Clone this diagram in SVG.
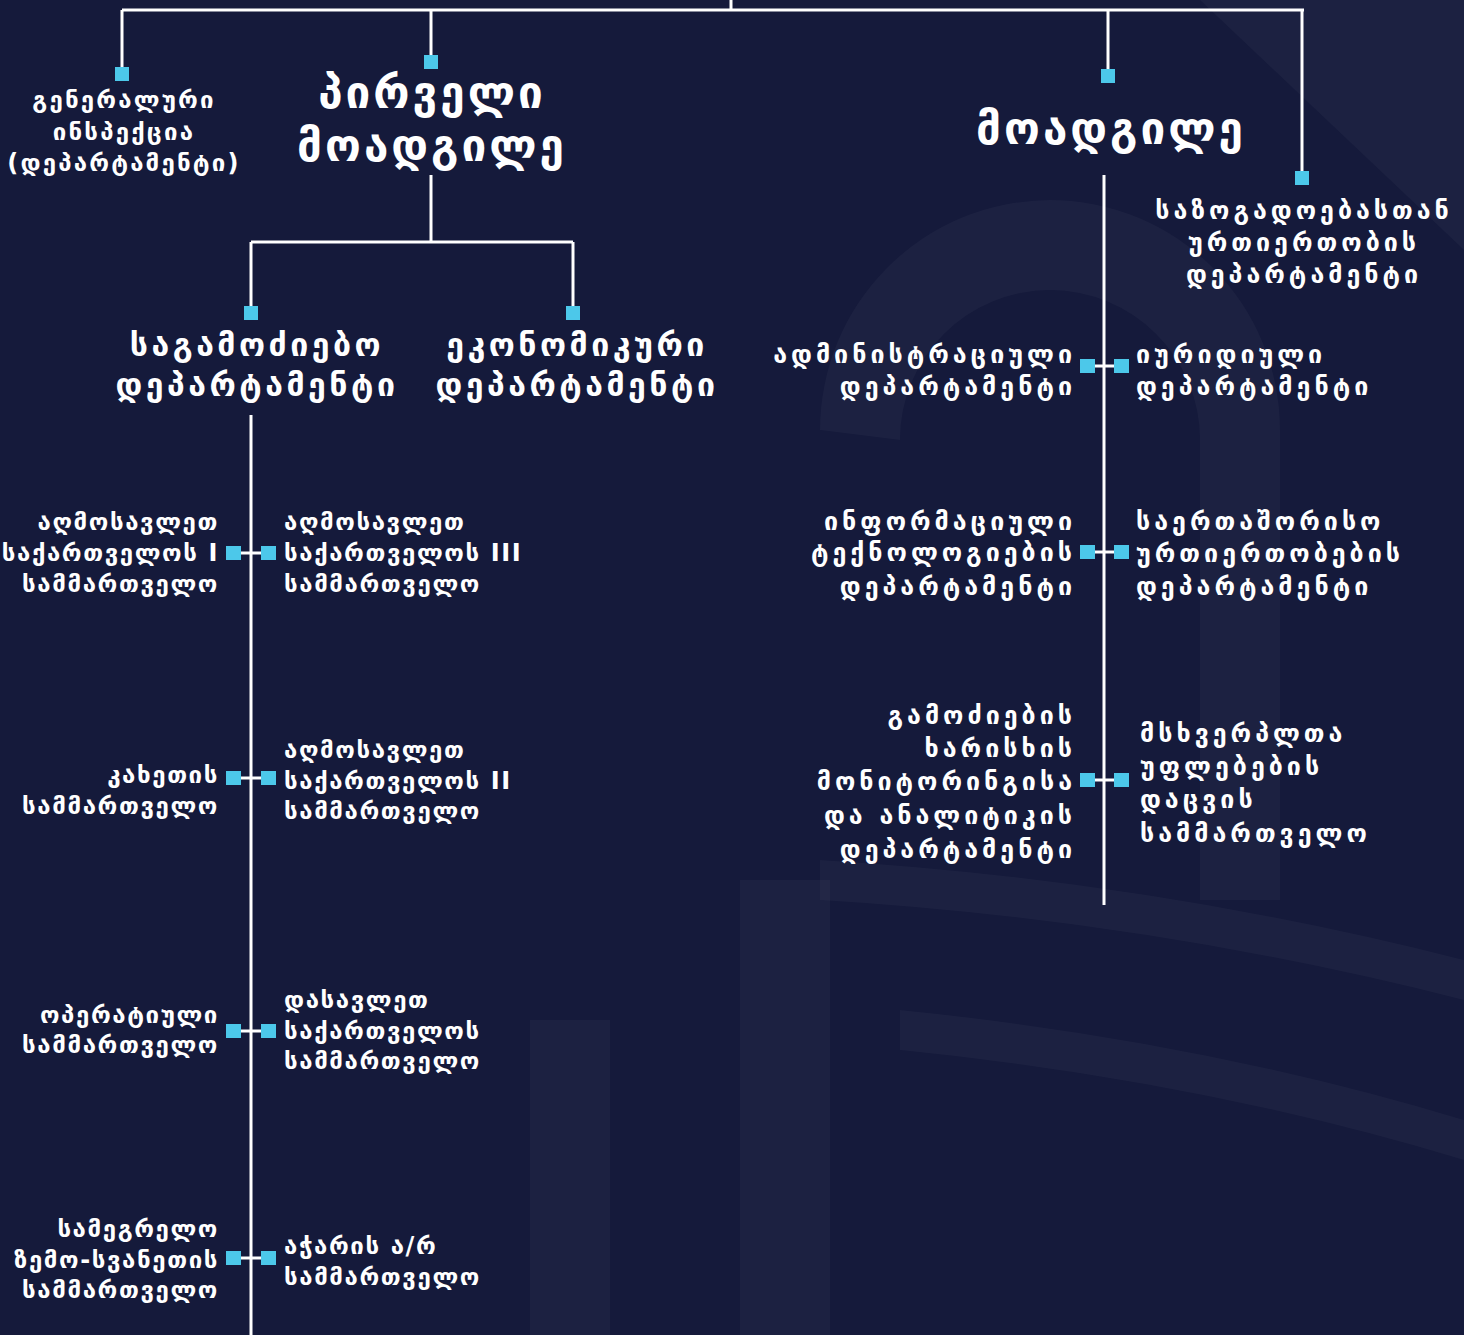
<svg xmlns="http://www.w3.org/2000/svg" width="1464" height="1335" viewBox="0 0 1464 1335">
<style>
.bg{fill:#151a3b}
.ln{stroke:#ffffff;stroke-width:3;fill:none}
.sq{fill:#4cc8ea}
.t{font-family:"DejaVu Sans",sans-serif;font-weight:bold;fill:#ffffff;dominant-baseline:central}
.s1{font-size:24px;letter-spacing:1.6px}
.s0{font-size:24px;letter-spacing:2.2px}
.s2{font-size:25px;letter-spacing:4px}
.m{font-size:32px;letter-spacing:3.5px}
.b{font-size:44px;letter-spacing:3px}
.c{text-anchor:middle}
.r{text-anchor:end}
.l{text-anchor:start}
.wm{fill:#ffffff;opacity:0.03}
</style>
<rect class="bg" x="0" y="0" width="1464" height="1335"/>
<g id="watermark">
<path class="wm" d="M820 430 A230 230 0 0 1 1280 430 L1280 900 L1200 900 L1200 440 A150 150 0 0 0 900 440 Z"/>
<rect class="wm" x="530" y="1020" width="80" height="315"/>
<rect class="wm" x="740" y="880" width="90" height="455"/>
<path class="wm" d="M820 860 Q1150 880 1464 960 L1464 1000 Q1150 920 820 900 Z"/>
<path class="wm" d="M900 1010 Q1200 1040 1464 1120 L1464 1160 Q1200 1080 900 1050 Z"/>
<path class="wm" d="M1200 0 L1464 0 L1464 250 Z"/>
</g>
<g id="connectors">
<line class="ln" x1="731" y1="0" x2="731" y2="10"/>
<line class="ln" x1="122" y1="10" x2="1304" y2="10"/>
<line class="ln" x1="122" y1="10" x2="122" y2="70"/>
<line class="ln" x1="431" y1="10" x2="431" y2="58"/>
<line class="ln" x1="1108" y1="10" x2="1108" y2="72"/>
<line class="ln" x1="1302" y1="10" x2="1302" y2="174"/>
<line class="ln" x1="431" y1="175" x2="431" y2="242"/>
<line class="ln" x1="251" y1="242" x2="573" y2="242"/>
<line class="ln" x1="251" y1="242" x2="251" y2="309"/>
<line class="ln" x1="573" y1="242" x2="573" y2="309"/>
<line class="ln" x1="251" y1="415" x2="251" y2="1335"/>
<line class="ln" x1="1104" y1="175" x2="1104" y2="905"/>
<line class="ln" x1="234" y1="553" x2="268" y2="553"/>
<line class="ln" x1="234" y1="778" x2="268" y2="778"/>
<line class="ln" x1="234" y1="1031" x2="268" y2="1031"/>
<line class="ln" x1="234" y1="1258" x2="268" y2="1258"/>
<line class="ln" x1="1088" y1="366" x2="1122" y2="366"/>
<line class="ln" x1="1088" y1="552" x2="1122" y2="552"/>
<line class="ln" x1="1088" y1="780" x2="1122" y2="780"/>
<rect class="sq" x="115" y="67" width="14" height="14"/>
<rect class="sq" x="424" y="55" width="14" height="14"/>
<rect class="sq" x="1101" y="69" width="14" height="14"/>
<rect class="sq" x="1295" y="171" width="14" height="14"/>
<rect class="sq" x="244" y="306" width="14" height="14"/>
<rect class="sq" x="566" y="306" width="14" height="14"/>
<rect class="sq" x="226" y="546" width="15" height="14"/>
<rect class="sq" x="261" y="546" width="15" height="14"/>
<rect class="sq" x="226" y="771" width="15" height="14"/>
<rect class="sq" x="261" y="771" width="15" height="14"/>
<rect class="sq" x="226" y="1024" width="15" height="14"/>
<rect class="sq" x="261" y="1024" width="15" height="14"/>
<rect class="sq" x="226" y="1251" width="15" height="14"/>
<rect class="sq" x="261" y="1251" width="15" height="14"/>
<rect class="sq" x="1080" y="359" width="15" height="14"/>
<rect class="sq" x="1114" y="359" width="15" height="14"/>
<rect class="sq" x="1080" y="545" width="15" height="14"/>
<rect class="sq" x="1114" y="545" width="15" height="14"/>
<rect class="sq" x="1080" y="773" width="15" height="14"/>
<rect class="sq" x="1114" y="773" width="15" height="14"/>
</g>
<g id="n-inspection">
<text class="t s0 c" x="124" y="100">გენერალური</text>
<text class="t s0 c" x="124" y="132">ინსპექცია</text>
<text class="t s0 c" x="124" y="163">(დეპარტამენტი)</text>
</g>
<g id="n-first-deputy">
<text class="t b c" x="432" y="92">პირველი</text>
<text class="t b c" x="432" y="145">მოადგილე</text>
</g>
<g id="n-deputy">
<text class="t b c" x="1111" y="128">მოადგილე</text>
</g>
<g id="n-public">
<text class="t s2 c" x="1304" y="210">საზოგადოებასთან</text>
<text class="t s2 c" x="1304" y="242">ურთიერთობის</text>
<text class="t s2 c" x="1304" y="274">დეპარტამენტი</text>
</g>
<g id="n-investigative">
<text class="t m c" x="257" y="345">საგამოძიებო</text>
<text class="t m c" x="257" y="385">დეპარტამენტი</text>
</g>
<g id="n-economic">
<text class="t m c" x="577" y="345">ეკონომიკური</text>
<text class="t m c" x="577" y="385">დეპარტამენტი</text>
</g>
<g id="n-east1">
<text class="t s1 r" x="219" y="522">აღმოსავლეთ</text>
<text class="t s1 r" x="219" y="553">საქართველოს I</text>
<text class="t s1 r" x="219" y="584">სამმართველო</text>
</g>
<g id="n-east3">
<text class="t s1 l" x="284" y="522">აღმოსავლეთ</text>
<text class="t s1 l" x="284" y="553">საქართველოს III</text>
<text class="t s1 l" x="284" y="584">სამმართველო</text>
</g>
<g id="n-kakheti">
<text class="t s1 r" x="219" y="775">კახეთის</text>
<text class="t s1 r" x="219" y="806">სამმართველო</text>
</g>
<g id="n-east2">
<text class="t s1 l" x="284" y="750">აღმოსავლეთ</text>
<text class="t s1 l" x="284" y="781">საქართველოს II</text>
<text class="t s1 l" x="284" y="811">სამმართველო</text>
</g>
<g id="n-operative">
<text class="t s1 r" x="219" y="1015">ოპერატიული</text>
<text class="t s1 r" x="219" y="1045">სამმართველო</text>
</g>
<g id="n-west">
<text class="t s1 l" x="284" y="1000">დასავლეთ</text>
<text class="t s1 l" x="284" y="1031">საქართველოს</text>
<text class="t s1 l" x="284" y="1061">სამმართველო</text>
</g>
<g id="n-samegrelo">
<text class="t s1 r" x="219" y="1229">სამეგრელო</text>
<text class="t s1 r" x="219" y="1260">ზემო-სვანეთის</text>
<text class="t s1 r" x="219" y="1290">სამმართველო</text>
</g>
<g id="n-adjara">
<text class="t s1 l" x="284" y="1246">აჭარის ა/რ</text>
<text class="t s1 l" x="284" y="1277">სამმართველო</text>
</g>
<g id="n-admin">
<text class="t s2 r" x="1076" y="354">ადმინისტრაციული</text>
<text class="t s2 r" x="1076" y="386">დეპარტამენტი</text>
</g>
<g id="n-legal">
<text class="t s2 l" x="1136" y="354">იურიდიული</text>
<text class="t s2 l" x="1136" y="386">დეპარტამენტი</text>
</g>
<g id="n-it">
<text class="t s2 r" x="1076" y="521">ინფორმაციული</text>
<text class="t s2 r" x="1076" y="552">ტექნოლოგიების</text>
<text class="t s2 r" x="1076" y="586">დეპარტამენტი</text>
</g>
<g id="n-intl">
<text class="t s2 l" x="1136" y="521">საერთაშორისო</text>
<text class="t s2 l" x="1136" y="553">ურთიერთობების</text>
<text class="t s2 l" x="1136" y="586">დეპარტამენტი</text>
</g>
<g id="n-quality">
<text class="t s2 r" x="1076" y="715">გამოძიების</text>
<text class="t s2 r" x="1076" y="748">ხარისხის</text>
<text class="t s2 r" x="1076" y="781">მონიტორინგისა</text>
<text class="t s2 r" x="1076" y="815">და ანალიტიკის</text>
<text class="t s2 r" x="1076" y="849">დეპარტამენტი</text>
</g>
<g id="n-victims">
<text class="t s2 l" x="1140" y="733">მსხვერპლთა</text>
<text class="t s2 l" x="1140" y="766">უფლებების</text>
<text class="t s2 l" x="1140" y="799">დაცვის</text>
<text class="t s2 l" x="1140" y="833">სამმართველო</text>
</g>
</svg>
